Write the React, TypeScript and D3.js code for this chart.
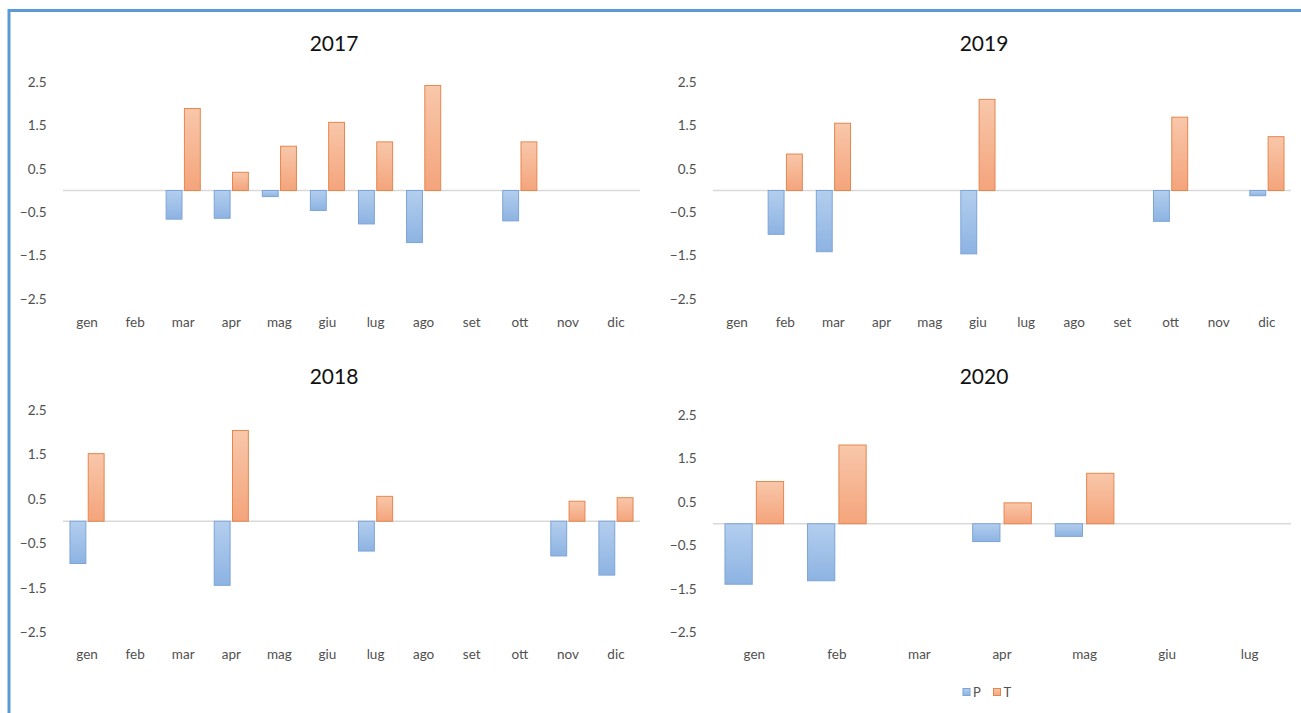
import * as d3 from "d3";
import { useEffect, useRef } from "react";

type V = number | null;

const months = ["gen", "feb", "mar", "apr", "mag", "giu", "lug", "ago", "set", "ott", "nov", "dic"];
const months2020 = ["gen", "feb", "mar", "apr", "mag", "giu", "lug"];
const yTicks = [2.5, 1.5, 0.5, -0.5, -1.5, -2.5];

const p2017: V[] = [null, null, -0.66, -0.64, -0.14, -0.46, -0.77, -1.2, null, -0.7, null, null];
const t2017: V[] = [null, null, 1.89, 0.42, 1.02, 1.57, 1.12, 2.42, null, 1.12, null, null];
const p2019: V[] = [null, -1.01, -1.41, null, null, -1.46, null, null, null, -0.71, null, -0.12];
const t2019: V[] = [null, 0.84, 1.55, null, null, 2.1, null, null, null, 1.69, null, 1.24];
const p2018: V[] = [-0.95, null, null, -1.44, null, null, -0.67, null, null, null, -0.78, -1.21];
const t2018: V[] = [1.52, null, null, 2.04, null, null, 0.56, null, null, null, 0.45, 0.53];
const p2020: V[] = [-1.39, -1.31, null, -0.41, -0.29, null, null];
const t2020: V[] = [0.97, 1.81, null, 0.48, 1.16, null, null];

const W = 1301;
const H = 713;
const FONT = "Lato, 'Open Sans', sans-serif";
const labelColor = "#505050";

type Panel = {
  title: string;
  cats: string[];
  p: V[];
  t: V[];
  x0: number; // left of chart area
  plot: [number, number]; // plot x range
  yTop: number; // y of 2.5
  yBot: number; // y of -2.5
  titleY: number;
  labelY: number;
};

const panels: Panel[] = [
  { title: "2017", cats: months, p: p2017, t: t2017, x0: 0, plot: [63, 640], yTop: 82, yBot: 299, titleY: 50.5, labelY: 327 },
  { title: "2019", cats: months, p: p2019, t: t2019, x0: 650, plot: [713, 1291], yTop: 82, yBot: 299, titleY: 50.5, labelY: 327 },
  { title: "2018", cats: months, p: p2018, t: t2018, x0: 0, plot: [63, 640], yTop: 410, yBot: 632.5, titleY: 384, labelY: 658.5 },
  { title: "2020", cats: months2020, p: p2020, t: t2020, x0: 650, plot: [713, 1291], yTop: 415, yBot: 632.5, titleY: 383.5, labelY: 658.5 },
];

export default function App() {
  const ref = useRef<SVGSVGElement | null>(null);

  useEffect(() => {
    const el = ref.current;
    if (!el) return;
    const svg = d3.select(el);
    svg.selectAll("*").remove();

    const defs = svg.append("defs");
    const grad = (id: string, top: string, bot: string) => {
      const g = defs.append("linearGradient").attr("id", id).attr("x1", 0).attr("y1", 0).attr("x2", 0).attr("y2", 1);
      g.append("stop").attr("offset", "0%").attr("stop-color", top);
      g.append("stop").attr("offset", "100%").attr("stop-color", bot);
    };
    grad("gP", "#B3CEEE", "#8DB3E2");
    grad("gT", "#F8C7AA", "#F4A47B");

    svg.append("rect").attr("width", W).attr("height", H).attr("fill", "#fff");

    // outer frame (only left and top edges visible)
    svg
      .append("path")
      .attr("d", `M9,${H} V10.5 H${W}`)
      .attr("fill", "none")
      .attr("stroke", "#5B9BD5")
      .attr("stroke-width", 3);

    for (const pn of panels) {
      const g = svg.append("g");
      const x = d3.scaleBand<string>().domain(pn.cats).range(pn.plot).padding(0);
      const y = d3.scaleLinear().domain([-2.5, 2.5]).range([pn.yBot, pn.yTop]);
      const bw = x.bandwidth();
      const barW = bw * 0.33;
      const gap = bw * 0.05;

      g.append("text")
        .attr("x", pn.x0 + 334)
        .attr("y", pn.titleY)
        .attr("text-anchor", "middle")
        .attr("font-family", FONT)
        .attr("font-size", 21)
        .attr("fill", "#111")
        .text(pn.title);

      g.selectAll("text.ytick")
        .data(yTicks)
        .join("text")
        .attr("class", "ytick")
        .attr("x", pn.plot[0] - 16.5)
        .attr("y", (d) => y(d) + 4.8)
        .attr("text-anchor", "end")
        .attr("font-family", FONT)
        .attr("font-size", 13.5)
        .attr("fill", labelColor)
        .text((d) => d3.format(".1f")(d));

      g.append("line")
        .attr("x1", pn.plot[0])
        .attr("x2", pn.plot[1])
        .attr("y1", y(0))
        .attr("y2", y(0))
        .attr("stroke", "#D9D9D9")
        .attr("stroke-width", 1.5);

      const idx = pn.cats.map((_, i) => i);

      g.selectAll("rect.p")
        .data(idx.filter((i) => pn.p[i] != null))
        .join("rect")
        .attr("class", "p")
        .attr("x", (i) => x(pn.cats[i])! + bw / 2 - gap / 2 - barW)
        .attr("y", y(0))
        .attr("width", barW)
        .attr("height", (i) => y(pn.p[i] as number) - y(0))
        .attr("fill", "url(#gP)")
        .attr("stroke", "#7DA4D6")
        .attr("stroke-width", 1);

      g.selectAll("rect.t")
        .data(idx.filter((i) => pn.t[i] != null))
        .join("rect")
        .attr("class", "t")
        .attr("x", (i) => x(pn.cats[i])! + bw / 2 + gap / 2)
        .attr("y", (i) => y(pn.t[i] as number))
        .attr("width", barW)
        .attr("height", (i) => y(0) - y(pn.t[i] as number))
        .attr("fill", "url(#gT)")
        .attr("stroke", "#E4874F")
        .attr("stroke-width", 1);

      g.selectAll("text.xcat")
        .data(pn.cats)
        .join("text")
        .attr("class", "xcat")
        .attr("x", (d) => x(d)! + bw / 2)
        .attr("y", pn.labelY)
        .attr("text-anchor", "middle")
        .attr("font-family", FONT)
        .attr("font-size", 13.5)
        .attr("fill", labelColor)
        .text((d) => d);
    }

    // legend
    const legend = [
      { name: "P", fill: "url(#gP)", stroke: "#7DA4D6", x: 963 },
      { name: "T", fill: "url(#gT)", stroke: "#E4874F", x: 993.5 },
    ];
    const lg = svg.append("g");
    lg.selectAll("rect")
      .data(legend)
      .join("rect")
      .attr("x", (d) => d.x)
      .attr("y", 688.5)
      .attr("width", 7)
      .attr("height", 7)
      .attr("fill", (d) => d.fill)
      .attr("stroke", (d) => d.stroke)
      .attr("stroke-width", 1);
    lg.selectAll("text")
      .data(legend)
      .join("text")
      .attr("x", (d) => d.x + 10)
      .attr("y", 696.5)
      .attr("font-family", FONT)
      .attr("font-size", 13)
      .attr("fill", labelColor)
      .text((d) => d.name);
  }, []);

  return (
    <svg
      ref={ref}
      width={W}
      height={H}
      viewBox={`0 0 ${W} ${H}`}
      style={{ position: "absolute", left: 0, top: 0, display: "block" }}
    />
  );
}
